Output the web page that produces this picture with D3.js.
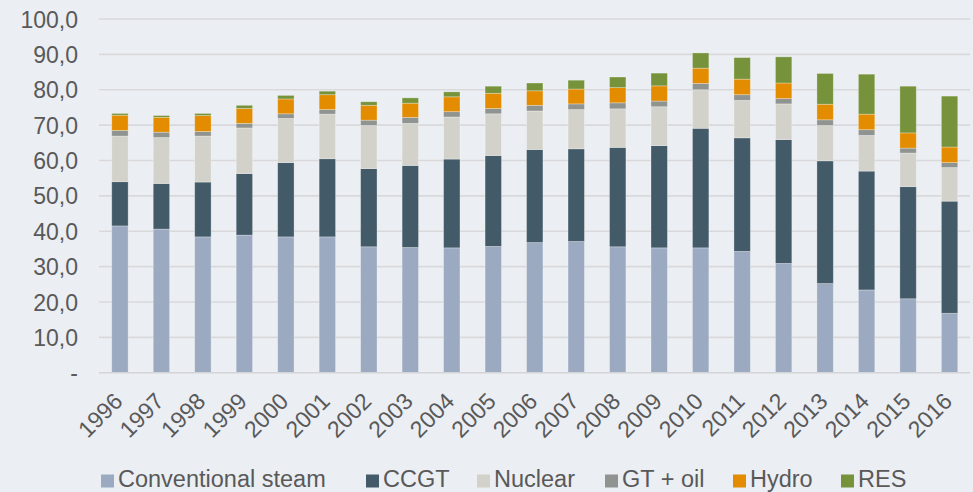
<!DOCTYPE html>
<html><head><meta charset="utf-8">
<script src="https://cdn.jsdelivr.net/npm/d3@7"></script>
<style>
html,body{margin:0;padding:0;background:#EBEEF3;}
svg{display:block;font-family:"Liberation Sans",Arial,Helvetica,sans-serif;}
</style>
</head><body>
<svg id="chart" width="973" height="492"></svg>
<script>
// ---- data ----
const years = ["1996","1997","1998","1999","2000","2001","2002","2003","2004","2005","2006","2007","2008","2009","2010","2011","2012","2013","2014","2015","2016"];
const seriesNames = ["Conventional steam","CCGT","Nuclear","GT + oil","Hydro","RES"];
const conventionalSteam = [41.5,40.6,38.4,38.9,38.4,38.4,35.6,35.4,35.3,35.7,36.8,37.1,35.6,35.3,35.3,34.3,30.9,25.2,23.4,20.9,16.8];
const ccgt              = [12.5,12.9,15.5,17.4,21.0,22.1,22.1,23.2,25.1,25.7,26.3,26.2,28.1,28.9,33.8,32.1,35.0,34.7,33.6,31.7,31.7];
const nuclear           = [12.9,13.0,13.0,12.9,12.5,12.6,12.2,11.9,11.9,11.8,10.9,11.1,10.9,11.0,10.9,10.6,10.1,10.0,10.1,9.5,9.5];
const gtOil             = [1.6,1.5,1.3,1.3,1.3,1.3,1.5,1.7,1.5,1.5,1.6,1.6,1.7,1.6,1.8,1.6,1.5,1.6,1.6,1.4,1.4];
const hydro             = [4.3,4.2,4.5,4.2,4.2,4.2,4.2,4.0,4.2,4.3,4.1,4.2,4.3,4.3,4.3,4.4,4.4,4.4,4.4,4.3,4.4];
const res               = [0.5,0.5,0.6,0.9,1.0,1.0,1.0,1.5,1.4,2.0,2.2,2.5,3.0,3.6,4.3,6.1,7.4,8.7,11.3,13.2,14.4];
const yTickValues = [0,10,20,30,40,50,60,70,80,90,100];
const yTickLabels = ["-","10,0","20,0","30,0","40,0","50,0","60,0","70,0","80,0","90,0","100,0"];

// ---- styling / layout ----
const colors = ["#9BAAC1","#435A69","#D3D2CA","#909490","#E38C00","#76933C"];
const legendX = [101, 366, 477, 605, 733, 841];
const textColor = "#595959";

const seriesArrays = [conventionalSteam, ccgt, nuclear, gtOil, hydro, res];
const rows = years.map((y,i) => {
  const r = {year:y};
  seriesNames.forEach((s,k) => r[s] = seriesArrays[k][i]);
  return r;
});

const svg = d3.select("#chart");
const x = d3.scaleBand().domain(years).range([99.2, 970.3]).paddingInner(0.605).paddingOuter(0.3025);
const y = d3.scaleLinear().domain([0,100]).range([372.7, 19]);

// y axis labels
const yAxis = d3.axisLeft(y).tickValues(yTickValues).tickSize(0)
  .tickFormat((d,i) => yTickLabels[i]);
const gy = svg.append("g").attr("transform","translate(78,0)").call(yAxis);
gy.select(".domain").remove();
gy.selectAll("text").attr("fill",textColor).style("font-size","23px").attr("x",0).attr("dy","0.35em");

// gridlines
svg.append("g").selectAll("line").data(yTickValues.slice(1)).join("line")
  .attr("x1",99).attr("x2",970).attr("y1",d=>y(d)).attr("y2",d=>y(d))
  .attr("stroke","#D9D9DB").attr("stroke-width",1.6);

// bars
const stack = d3.stack().keys(seriesNames)(rows);
svg.append("g").selectAll("g").data(stack).join("g")
  .attr("fill",(d,i)=>colors[i])
  .selectAll("rect").data(d=>d).join("rect")
  .attr("x",d=>x(d.data.year))
  .attr("width",x.bandwidth())
  .attr("y",d=>y(d[1]))
  .attr("height",d=>y(d[0])-y(d[1]))
  .attr("stroke","rgba(255,255,255,0.35)").attr("stroke-width",0.8);

// x axis
const xAxis = d3.axisBottom(x).tickSize(0).tickSizeOuter(0);
const gx = svg.append("g").attr("transform",`translate(0,${y(0)})`).call(xAxis);
gx.select(".domain").remove();
svg.append("line").attr("x1",99).attr("x2",970).attr("y1",y(0)).attr("y2",y(0))
  .attr("stroke","#D4D4D6").attr("stroke-width",1.6);
gx.selectAll(".tick text")
  .attr("fill",textColor).style("font-size","23px")
  .attr("text-anchor","end")
  .attr("x",0).attr("y",0).attr("dy",0)
  .attr("transform","translate(4,30) rotate(-45)");

// legend
const lg = svg.append("g");
seriesNames.forEach((s,i)=>{
  lg.append("rect").attr("x",legendX[i]).attr("y",474.5).attr("width",13).attr("height",13).attr("fill",colors[i]);
  lg.append("text").attr("x",legendX[i]+17).attr("y",486.5).attr("fill",textColor)
    .style("font-size","23.5px").text(s);
});
</script>
</body></html>
